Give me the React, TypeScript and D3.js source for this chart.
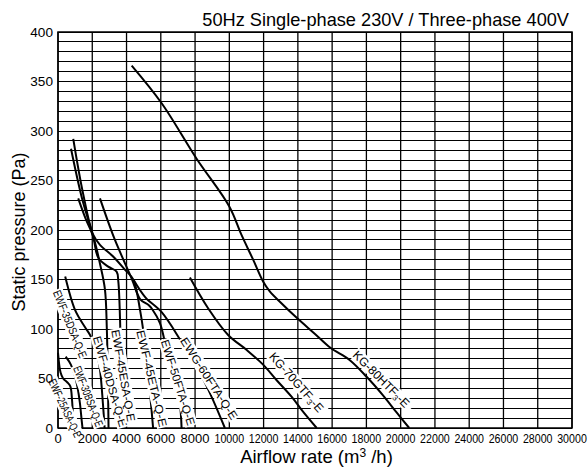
import React from "react";
import * as d3 from "d3";

// ---- data ----
const xTicks = d3.range(0, 30001, 2000);
const yTicks = d3.range(0, 401, 50);
const yGrid = d3.range(0, 401, 10);

const curve25ASA: [number, number][] = [[0, 76], [150, 56], [300, 50], [550, 46], [720, 42], [820, 28], [880, 10], [920, 0]];
const curve30BSA: [number, number][] = [[450, 72], [750, 64], [1000, 52], [1150, 40], [1280, 25], [1380, 8], [1430, 0]];
const curve35DSA: [number, number][] = [[420, 153], [1000, 119], [1570, 102], [1870, 94], [2250, 77], [2450, 59], [2620, 25], [2720, 0]];
const curve40DSA: [number, number][] = [[1180, 232], [1600, 212], [2060, 193], [2450, 166], [2740, 140], [2850, 100], [2910, 50], [2950, 0]];
const curve45ESA: [number, number][] = [[760, 282], [1400, 232], [2060, 193], [2350, 172], [2930, 163], [3420, 158], [3520, 148], [3620, 110], [3680, 55], [3714, 0]];
const curve45ETA: [number, number][] = [[890, 292], [1450, 238], [2060, 195], [2450, 185], [3230, 173], [3900, 160], [4390, 150], [4800, 118], [5150, 75], [5400, 30], [5550, 0]];
const curve50FTA: [number, number][] = [[2450, 232], [3300, 191], [4300, 151], [4800, 130], [5300, 124], [5500, 120], [5950, 106], [6340, 79], [6800, 50], [7110, 25], [7213, 0]];
const curve60FTA: [number, number][] = [[4400, 150], [5100, 132], [6050, 117], [7210, 87], [8090, 62], [8900, 34], [9740, 0]];
const curve70GTF: [number, number][] = [[7700, 152], [8760, 121], [9930, 94], [11000, 79], [11970, 64], [12750, 48.5], [13630, 31.6], [14300, 16.5], [15100, 0]];
const curve80HTF: [number, number][] = [[4300, 366], [6050, 328], [8090, 272], [9990, 224], [10710, 195], [11390, 170], [11970, 148], [12360, 138], [13040, 126], [13950, 111], [15000, 95], [15900, 81], [17000, 69], [18000, 52], [18970, 33], [19750, 16], [20500, 0]];

const curves = [curve25ASA, curve30BSA, curve35DSA, curve40DSA, curve45ESA, curve45ETA, curve50FTA, curve60FTA, curve70GTF, curve80HTF];

const labelNames = ["EWF-25ASA-Q-E", "EWF-30BSA-Q-E", "EWF-35DSA-Q-E", "EWF-40DSA-Q-E", "EWF-45ESA-Q-E", "EWF-45ETA-Q-E", "EWF-50FTA-Q-E", "EWG-60FTA-Q-E", "KG-70GTF|3|-E", "KG-80HTF|3|-E"];
const labelAnchors: [number, number][] = [[410, 20], [1770, 32], [700, 105], [3035, 47], [3810, 53], [5470, 50], [7000, 46], [8810, 50], [13970, 45], [18940, 48]];
const labelAngles = [65, 69, 68, 73.5, 80, 76.5, 72.5, 57, 48.5, 45];
const labelLengths = [63, 64, 72, 94, 93, 99, 89, 95, 78, 78];

const W = 588, H = 468;
const M = { left: 58, right: 16, top: 32, bottom: 40 };

export default function App() {
  const x = d3.scaleLinear().domain([0, 30000]).range([M.left, W - M.right]);
  const y = d3.scaleLinear().domain([0, 400]).range([H - M.bottom, M.top]);
  const line = d3.line<[number, number]>().x(d => x(d[0])).y(d => y(d[1])).curve(d3.curveCatmullRom.alpha(0.5));
  const font = "Liberation Sans, Arial, Helvetica, sans-serif";

  return (
    <div style={{ position: "fixed", left: 0, top: 0 }}>
      <svg width={W} height={H} viewBox={`0 0 ${W} ${H}`} style={{ display: "block", background: "#fff" }} fontFamily={font}>
        {/* grid */}
        {yGrid.map(v => (
          <line key={"h" + v} x1={x(0)} x2={x(30000)} y1={y(v)} y2={y(v)} stroke="#000" strokeWidth={1} shapeRendering="crispEdges" />
        ))}
        {xTicks.map(v => (
          <line key={"v" + v} x1={x(v)} x2={x(v)} y1={y(0)} y2={y(400)} stroke="#000" strokeWidth={1.3} />
        ))}
        <rect x={x(0)} y={y(400)} width={x(30000) - x(0)} height={y(0) - y(400)} fill="none" stroke="#000" strokeWidth={1.5} />

        {/* curves */}
        {curves.map((c, i) => (
          <path key={"c" + i} d={line(c) || ""} fill="none" stroke="#000" strokeWidth={2} />
        ))}

        {/* curve labels */}
        {labelNames.map((name, i) => {
          const [ax, ay] = labelAnchors[i];
          const cx = x(ax), cy = y(ay);
          const len = labelLengths[i];
          const parts = name.split("|");
          return (
            <g key={"l" + i} transform={`translate(${cx},${cy}) rotate(${labelAngles[i]})`}>
              <rect x={-len / 2 - 1} y={-6.5} width={len + 2} height={13} fill="#fff" />
              {parts.length === 1 ? (
                <text x={-len / 2} y={0} dominantBaseline="central" fontSize={11.5} textLength={len} lengthAdjust="spacingAndGlyphs">{name}</text>
              ) : (
                <text x={-len / 2} y={0} dominantBaseline="central" fontSize={12}>
                  {parts[0]}
                  <tspan fontSize={8} dy={3}>{parts[1]}</tspan>
                  <tspan dy={-3}>{parts[2]}</tspan>
                </text>
              )}
            </g>
          );
        })}

        {/* y tick labels */}
        {yTicks.map(v => (
          <text key={"yt" + v} x={M.left - 5} y={y(v)} textAnchor="end" dominantBaseline="central" fontSize={13.6}>{v}</text>
        ))}
        {/* x tick labels */}
        {xTicks.map(v => {
          const s = String(v);
          const sx = s.length >= 5 ? 0.82 : 1;
          return (
            <g key={"xt" + v} transform={`translate(${x(v)},443) scale(${sx},1)`}>
              <text x={0} y={0} textAnchor="middle" fontSize={13}>{s}</text>
            </g>
          );
        })}

        {/* titles */}
        <text x={569} y={26} textAnchor="end" fontSize={18.2}>50Hz Single-phase 230V / Three-phase 400V</text>
        <text x={316.5} y={463} textAnchor="middle" fontSize={18.5}>
          Airflow rate (m<tspan fontSize={12} dy={-6.5}>3</tspan><tspan dy={6.5}> /h)</tspan>
        </text>
        <text transform={`translate(25,232) rotate(-90)`} textAnchor="middle" fontSize={18}>Static pressure (Pa)</text>
      </svg>
    </div>
  );
}
